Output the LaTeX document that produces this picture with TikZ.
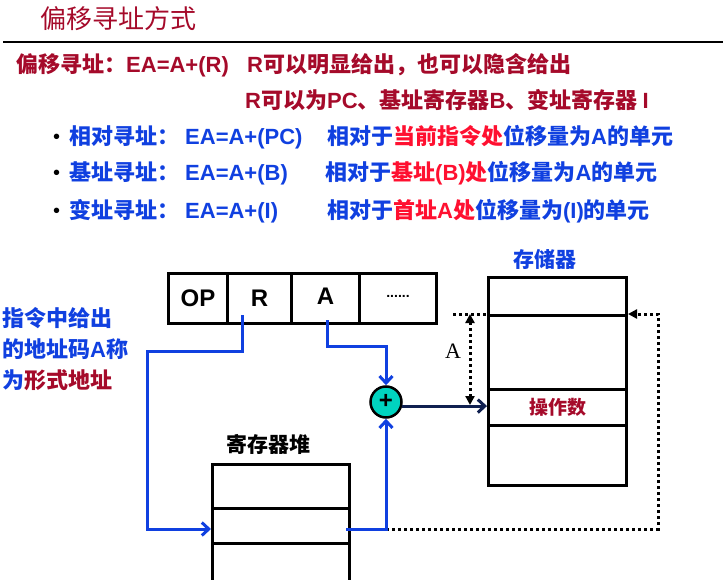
\documentclass[tikz,border=0pt]{standalone}
\usepackage{fontspec}
\setmainfont{Liberation Sans}
\newfontfamily\cjk{Noto Sans CJK SC}
\newfontfamily\lat{Liberation Sans}
\newfontfamily\serifA{Liberation Serif}
\usetikzlibrary{arrows.meta,calc}
\definecolor{dred}{HTML}{A50A2A}
\definecolor{bblue}{HTML}{1040E0}
\definecolor{rred}{HTML}{FF1030}
\definecolor{navyc}{HTML}{102050}
\definecolor{pluscol}{HTML}{00D4C0}
\newcommand\E[1]{{\lat\bfseries #1}}
\begin{document}
\begin{tikzpicture}[x=1pt,y=-1pt,
  txt/.style={inner sep=0pt, anchor=base west, font=\cjk\bfseries\fontsize{22}{26}\selectfont},
  lbl/.style={inner sep=0pt, font=\cjk\bfseries\fontsize{21}{24}\selectfont},
  cell/.style={draw, line width=3pt, inner sep=0pt, anchor=north west, minimum width=#1},
  bline/.style={draw=bblue, line width=3pt, -{Straight Barb[length=7pt,width=13pt,line width=3pt]}},
  dline/.style={draw=black, line width=3pt, dash pattern=on 3pt off 3pt},
  tip/.style={-{Triangle[length=9pt,width=9pt]}}]
\useasboundingbox (0,0) rectangle (723,580);
% title
\node[inner sep=0pt, anchor=base west, text=dred, font=\cjk\fontsize{26}{30}\selectfont] (title) at (40,29) {偏移寻址方式};
\draw[line width=1.5pt] (3,42) -- (723,42);
% header lines
\node[txt, text=dred] (l1a) at (16,73) {偏移寻址：\E{EA=A+(R)}};
\node[txt, text=dred] (l1b) at (247,73) {\E{R}可以明显给出，也可以隐含给出};
\node[txt, text=dred] (l2) at (245,109) {\E{R}可以为\E{PC}、基址寄存器\E{B}、变址寄存器 \E{I}};
% bullets
\node[txt, text=black, font=\lat\fontsize{20}{24}\selectfont] (b1) at (53,144) {•};
\node[txt, text=black, font=\lat\fontsize{20}{24}\selectfont] (b2) at (53,180) {•};
\node[txt, text=black, font=\lat\fontsize{20}{24}\selectfont] (b3) at (53,218) {•};
\node[txt, text=bblue] (r1a) at (69,145) {相对寻址：};
\node[txt, text=bblue] (r1b) at (185,145) {\E{EA=A+(PC)}};
\node[txt, text=bblue] (r1c) at (327,145) {相对于\textcolor{rred}{当前指令处}位移量为\E{A}的单元};
\node[txt, text=bblue] (r2a) at (69,181) {基址寻址：};
\node[txt, text=bblue] (r2b) at (185,181) {\E{EA=A+(B)}};
\node[txt, text=bblue] (r2c) at (325,181) {相对于\textcolor{rred}{基址\E{(B)}处}位移量为\E{A}的单元};
\node[txt, text=bblue] (r3a) at (69,219) {变址寻址：};
\node[txt, text=bblue] (r3b) at (185,219) {\E{EA=A+(I)}};
\node[txt, text=bblue] (r3c) at (327,219) {相对于\textcolor{rred}{首址\E{A}处}位移量为\E{(I)}的单元};
% left note
\node[txt, text=bblue] (n1) at (2,326) {指令中给出};
\node[txt, text=bblue] (n2) at (2,357) {的地址码\E{A}称};
\node[txt, text=bblue] (n3) at (2,388) {为\textcolor{dred}{形式地址}};
% instruction word
\node[cell=59, minimum height=50, font=\lat\bfseries\fontsize{24}{24}\selectfont] (op) at (167,272) {OP};
\node[cell=64, minimum height=50, font=\lat\bfseries\fontsize{24}{24}\selectfont] (rc) at (226,272) {R};
\node[cell=68, minimum height=50, font=\lat\bfseries\fontsize{24}{24}\selectfont] (ac) at (290,272) {\raisebox{4pt}{A}};
\node[cell=77, minimum height=50, font=\lat\bfseries\fontsize{14}{14}\selectfont] (dc) at (358,272) {\raisebox{4pt}{......}};
% memory
\node[lbl, text=bblue] (memlbl) at (545,259) {存储器};
\node[cell=138, minimum height=38] (m1) at (487,276) {};
\node[cell=138, minimum height=74] (m2) at (487,314) {};
\node[cell=138, minimum height=36, text=dred, font=\cjk\bfseries\fontsize{19}{22}\selectfont] (m3) at (487,388) {操作数};
\node[cell=138, minimum height=60] (m4) at (487,424) {};
% register file
\node[lbl, text=black] (reglbl) at (268,444) {寄存器堆};
\node[cell=137, minimum height=44] (g1) at (211,463) {};
\node[cell=137, minimum height=35] (g2) at (211,507) {};
\node[cell=137, minimum height=46] (g3) at (211,542) {};
% coordinates
\coordinate (rs) at (242,315);
\coordinate (rin) at (211,529);
\coordinate (as) at (327,320);
\coordinate (rout) at (346,529);
\coordinate (jn) at (386,529);
\coordinate (dl) at (453,314);
\coordinate (ta) at (470,314);
\coordinate (tb) at (470,405);
\coordinate (dr) at (658,529);
% dotted paths
\draw[dline, tip] (jn) -- (dr) |- (m2.north east);
\draw[dline] (dl) -- (m2.north west);
\draw[dline, {Triangle[length=9pt,width=9pt]}-{Triangle[length=9pt,width=9pt]}] (ta) -- (tb);
\node[inner sep=0pt, font=\serifA\fontsize{22}{22}\selectfont] (alab) at (453,351) {A};
% adder
\node[circle, draw, line width=2.5pt, fill=pluscol, minimum size=31pt, inner sep=0pt, font=\lat\bfseries\fontsize{24}{24}\selectfont] (plus) at (386,402) {\raisebox{1pt}{+}};
% blue paths
\draw[bline] (rs) |- (147,351) |- (rin);
\draw[bline] (as) |- (plus.north |- 0,346) -- (plus.north);
\draw[bline] (rout) -| (plus.south);
\draw[draw=navyc, line width=3pt, -{Straight Barb[length=7pt,width=13pt,line width=3pt]}] (plus.-14) -- (plus.-14 -| m3.west);
\end{tikzpicture}
\end{document}
